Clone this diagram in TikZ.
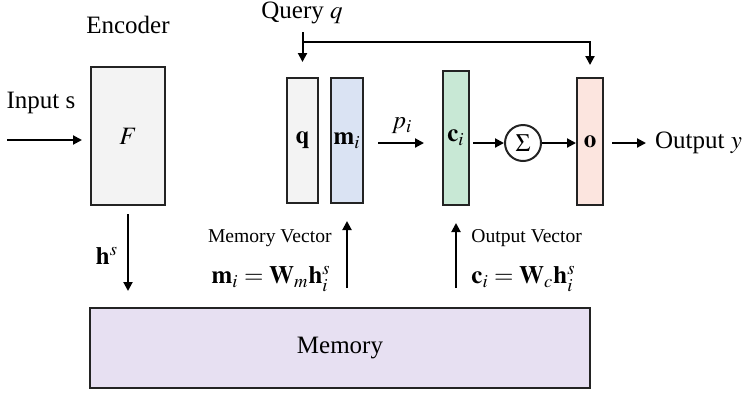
\documentclass[tikz,border=0pt]{standalone}
\usepackage{mathptmx}
\usepackage{fontspec}
\setmainfont{Liberation Serif}
\usetikzlibrary{arrows.meta}

\definecolor{boxline}{RGB}{35,35,35}
\definecolor{grayfill}{RGB}{243,243,243}
\definecolor{bluefill}{RGB}{218,227,243}
\definecolor{greenfill}{RGB}{200,232,213}
\definecolor{pinkfill}{RGB}{252,229,223}
\definecolor{lavfill}{RGB}{231,224,242}

\begin{document}
\begin{tikzpicture}[x=0.5pt, y=-0.5pt,
    every node/.style={font=\fontsize{12.5}{15}\selectfont},
    vec/.style={rectangle, draw=boxline, line width=1pt, inner sep=0pt},
    lbl/.style={font=\fontsize{9.8}{12}\selectfont, inner sep=0pt},
    arr/.style={line width=1pt, -{Triangle[length=4.5pt,width=4.5pt]}}]
	\useasboundingbox (0,0) rectangle (742,392);

	% blocks
	\node[vec, fill=grayfill, minimum width=37pt, minimum height=69pt] (enc) at (128,136) {$F$};
	\node[vec, fill=grayfill, minimum width=15.5pt, minimum height=62.5pt] (qv) at (302.5,140.5) {$\mathbf{q}$};
	\node[vec, fill=bluefill, minimum width=16pt, minimum height=62.5pt] (mv) at (347,140.5) {$\mathbf{m}_i$};
	\node[vec, fill=greenfill, minimum width=13pt, minimum height=67pt] (cv) at (456,138) {$\mathbf{c}_i$};
	\node[circle, draw=boxline, line width=1pt, minimum size=18pt, inner sep=0pt] (sig) at (523,143) {$\Sigma$};
	\node[vec, fill=pinkfill, minimum width=13pt, minimum height=63.5pt] (ov) at (590,141.5) {$\mathbf{o}$};
	\node[vec, fill=lavfill, minimum width=250pt, minimum height=40pt] (mem) at (340,348) {Memory};

	% labels
	\node (enclab) at (128,25) {Encoder};
	\node (inlab) at (41,103) {Input s};
	\node (qlab) at (302,13) {Query $q$};
	\node[anchor=west] (outlab) at (648,143) {Output $y$};
	\node (hlab) at (107,256) {$\mathbf{h}^s$};
	\node (plab) at (402,126) {$p_i$};
	\node[lbl, anchor=east] (mvlab) at (332,238) {Memory Vector};
	\node[anchor=east, inner sep=0pt] (mveq) at (331,279) {$\mathbf{m}_i = \mathbf{W}_m\mathbf{h}_i^s$};
	\node[lbl, anchor=west] (cvlab) at (471,238) {Output Vector};
	\node[anchor=west, inner sep=0pt] (cveq) at (471,279) {$\mathbf{c}_i = \mathbf{W}_c\mathbf{h}_i^s$};

	\coordinate (instart) at (7,140);
	\coordinate (qtop) at (303,33);
	\coordinate (qbend) at (303,42);

	% connectors
	\draw[arr, shorten >=4pt] (instart) -- (instart -| enc.west);
	\draw[arr, shorten <=4pt, shorten >=8pt] (enc.south) -- (enc.south |- mem.north);
	\draw[arr, shorten <=9.5pt, shorten >=8.5pt] (mem.north -| mv.south) -- (mv.south);
	\draw[arr, shorten <=9.5pt, shorten >=8.5pt] (mem.north -| cv.south) -- (cv.south);
	\draw[arr, shorten >=7.5pt] (qtop) -- (qtop -| qv.north) -- (qv.north);
	\draw[arr, shorten >=6pt] (qbend) -| (ov.north);
	\draw[arr, shorten <=7pt, shorten >=9pt] (mv.east |- sig.center) -- (cv.west |- sig.center);
	\draw[arr, shorten <=1.5pt] (cv.east |- sig.center) -- (sig.west);
	\draw[arr] (sig.east) -- (ov.west |- sig.center);
	\draw[arr, shorten <=4pt, shorten >=1pt] (ov.east |- sig.center) -- (outlab.west);
\end{tikzpicture}
\end{document}
